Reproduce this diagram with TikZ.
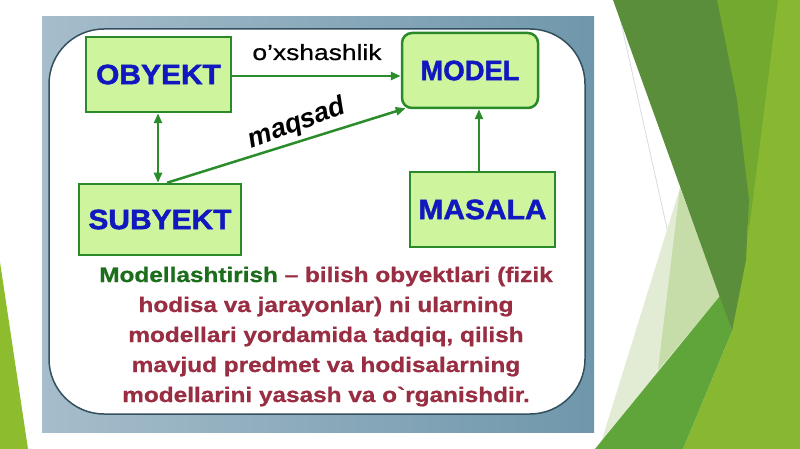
\documentclass[tikz,border=0pt]{standalone}
\usepackage{fontspec}
\setmainfont{Liberation Sans}
\newfontfamily\bodyfont[FakeStretch=1.16,FakeBold=0.8]{Liberation Sans}
\newfontfamily\boxfont[FakeStretch=1.07,FakeBold=1.6]{Liberation Sans}
\newfontfamily\modelfont[FakeStretch=0.98,FakeBold=1.6]{Liberation Sans}
\newfontfamily\labfont[FakeStretch=1.2,FakeBold=0.6]{Liberation Sans}
\usetikzlibrary{arrows.meta}
\definecolor{bandDark}{HTML}{5B8E3B}
\definecolor{bandMid}{HTML}{72A92E}
\definecolor{bandLime}{HTML}{88B831}
\definecolor{bandGreen}{HTML}{5FA53A}
\definecolor{bandPale}{HTML}{E2ECD4}
\definecolor{bandPaleG}{HTML}{C6DCA9}
\definecolor{sliver}{HTML}{8DBD2E}
\definecolor{faint}{HTML}{D6DCE0}
\definecolor{frameL}{HTML}{A6BDCB}
\definecolor{frameR}{HTML}{6F97AB}
\definecolor{innerLine}{HTML}{34505E}
\definecolor{boxFill}{HTML}{CEF59E}
\definecolor{boxLine}{HTML}{2A8A2A}
\definecolor{arrowC}{HTML}{2A8C2A}
\definecolor{boxText}{HTML}{1218C0}
\definecolor{defGreen}{HTML}{1C6E1C}
\definecolor{defRed}{HTML}{992D42}
\tikzset{
  box/.style={draw=boxLine, fill=boxFill, line width=2.5pt, inner sep=0pt, text=boxText},
  boxlabel/.style={font=\boxfont\bfseries\fontsize{28}{30}\selectfont},
  conn/.style={draw=arrowC, line width=2.5pt, -{Triangle[length=10pt,width=8pt]}},
  bodyline/.style={anchor=base, inner sep=0pt, text=defRed, font=\bodyfont\bfseries\fontsize{21}{30}\selectfont}
}
\begin{document}
\begin{tikzpicture}[x=1pt,y=-1pt]
\useasboundingbox (0,0) rectangle (800,449);
\fill[white] (0,0) rectangle (800,449);
% background decorations
\fill[sliver] (0,262) -- (28,449) -- (0,449) -- cycle;
\draw[faint, line width=0.8pt] (616,0) -- (668,233);
\fill[bandLime] (717,0) -- (800,0) -- (800,449) -- (683,449) -- (732,331) -- cycle;
\fill[bandMid] (717,0) -- (778,0) -- (749,230) -- cycle;
\fill[bandPale] (680,188) -- (720,296) -- (600,446) -- cycle;
\fill[bandPaleG] (680,188) -- (720,296) -- (658,370) -- cycle;
\fill[bandGreen] (595,449) -- (720,296) -- (732,331) -- (683,449) -- cycle;
\fill[bandDark] (613,0) -- (717,0) -- (737,100) -- (749,200) -- (746,260) -- (732,331) -- cycle;
% frame
\shade[left color=frameL, right color=frameR] (42,17) rectangle (594,432);
\draw[fill=white, draw=innerLine, line width=1.5pt, rounded corners=55pt] (49,29) rectangle (585,414);
% boxes
\node[box, minimum width=145pt, minimum height=75pt, boxlabel] (obyekt) at (158.5,74.5) {OBYEKT};
\node[box, rounded corners=10pt, minimum width=136pt, minimum height=75pt, font=\modelfont\bfseries\fontsize{28}{30}\selectfont] (model) at (470,70.5) {MODEL};
\node[box, minimum width=162pt, minimum height=71pt, boxlabel] (subyekt) at (160,219.5) {SUBYEKT};
\node[box, minimum width=145pt, minimum height=75pt, boxlabel] (masala) at (482.5,209.5) {MASALA};
% connectors
\draw[conn] (obyekt.east |- 0,76) -- (model.west |- 0,76);
\draw[conn, {Triangle[length=10pt,width=8pt]}-{Triangle[length=10pt,width=8pt]}] (obyekt.south -| 158,0) -- (subyekt.north -| 158,0);
\draw[conn] ([xshift=7pt]subyekt.north) -- ([xshift=5pt,yshift=1pt]model.south west);
\draw[conn] (masala.north -| 479,0) -- (model.south -| 479,0);
% labels
\node[anchor=base, inner sep=0pt, font=\labfont\fontsize{22}{24}\selectfont] (lab1) at (317,60) {o’xshashlik};
\node[inner sep=0pt, rotate=20, font=\bfseries\itshape\fontsize{27}{29}\selectfont] (lab2) at (297,124) {maqsad};
% definition text
\node[bodyline] (l1) at (326,282) {\textcolor{defGreen}{Modellashtirish} – bilish obyektlari (fizik};
\node[bodyline] (l2) at (326,312) {hodisa va jarayonlar) ni ularning};
\node[bodyline] (l3) at (326,342) {modellari yordamida tadqiq, qilish};
\node[bodyline] (l4) at (326,372) {mavjud predmet va hodisalarning};
\node[bodyline] (l5) at (326,402) {modellarini yasash va o\symbol{96}rganishdir.};
\end{tikzpicture}
\end{document}
